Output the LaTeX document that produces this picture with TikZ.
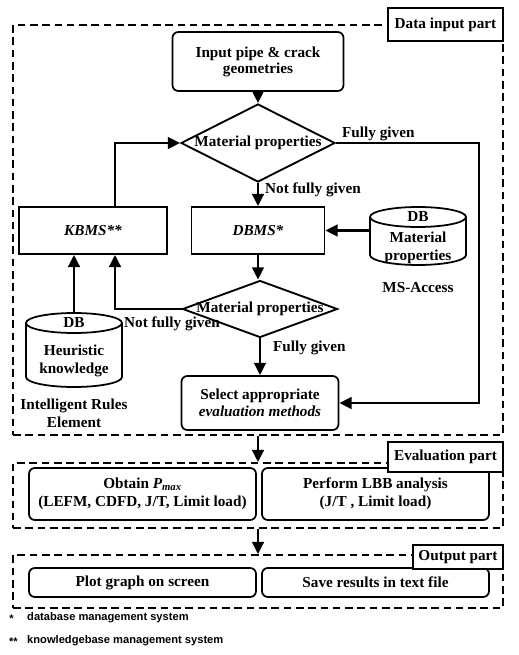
\documentclass[tikz,border=0pt]{standalone}
\usepackage{fontspec}
\setmainfont{Liberation Serif}
\newfontfamily\notefont{Liberation Sans}
\usetikzlibrary{shapes.geometric,arrows.meta}

\tikzset{
  txt/.style={font=\bfseries\fontsize{13}{15}\selectfont, align=center},
  stepbox/.style={txt, draw, line width=1.5pt, rounded corners=5pt, inner sep=0pt},
  sqbox/.style={txt, draw, line width=1.5pt, inner sep=0pt},
  decision/.style={diamond, draw, line width=1.6pt, inner sep=0pt},
  partbox/.style={draw, dash pattern=on 6.5pt off 4pt, line width=1.5pt, inner sep=0pt},
  tag/.style={txt, draw, fill=white, line width=1.5pt, inner sep=0pt},
  arr/.style={line width=2.2pt, -{Triangle[length=10.5pt,width=10pt]}},
  note/.style={font=\notefont\bfseries\fontsize{9.5}{11}\selectfont, inner sep=0pt}
}

% database drum: name, centre, height
\newcommand{\dbdrum}[3]{%
  \node[minimum width=2.88cm, minimum height=#3, inner sep=0pt, outer sep=0pt] (#1) at #2 {};
  \draw[line width=1.5pt] ([yshift=-0.3cm]#1.north west) -- ([yshift=0.3cm]#1.south west)
    arc[start angle=180, end angle=360, x radius=1.44cm, y radius=0.3cm]
    -- ([yshift=-0.3cm]#1.north east);
  \draw[line width=1.5pt] ([yshift=-0.3cm]#1.north) ellipse [x radius=1.44cm, y radius=0.3cm];
}

\begin{document}
\begin{tikzpicture}[x=0.03cm, y=-0.03cm]
            \useasboundingbox (0,0) rectangle (518,655);

            % parts
            \node[partbox, minimum width=14.7cm, minimum height=12.3cm] (datapart) at (258,230) {};
            \node[partbox, minimum width=14.7cm, minimum height=1.95cm] (evalpart) at (258,495.5) {};
            \node[partbox, minimum width=14.7cm, minimum height=1.59cm] (outpart) at (258,581.5) {};
            \node[tag, minimum width=3.45cm, minimum height=0.99cm] (datatag) at (445.5,24.5) {Data input part};

            % data input part
            \node[stepbox, minimum width=5.13cm, minimum height=1.77cm, font=\bfseries\fontsize{13}{13.5}\selectfont] (input) at (258,61.5) {Input pipe \& crack\\geometries};
            \node[decision, minimum width=4.62cm, minimum height=2.34cm] (d1) at (258,143) {};
            \node[txt] (d1txt) at (d1) {Material properties};
            \node[sqbox, minimum width=4.44cm, minimum height=1.41cm] (kbms) at (93,230.5) {\textit{KBMS**}};
            \node[sqbox, minimum width=3.99cm, minimum height=1.41cm] (dbms) at (258,230.5) {\textit{DBMS*}};
            \node[decision, minimum width=4.65cm, minimum height=1.71cm] (d2) at (260,309) {};
            \node[txt] (d2txt) at (d2) {Material properties};
            \node[stepbox, minimum width=4.71cm, minimum height=1.62cm] (select) at (260,403) {Select appropriate\\\textit{evaluation methods}};

            \dbdrum{matdb}{(418,236)}{1.74cm}
            \node[txt] (matdbtop) at ([yshift=-0.3cm]matdb.north) {DB};
            \node[txt] (matdbtxt) at ([yshift=-0.35cm]matdb.center) {Material\\properties};
            \node[txt] (access) at (418,288) {MS-Access};

            \dbdrum{heur}{(74,350)}{2.22cm}
            \node[txt] (heurtop) at ([yshift=-0.3cm]heur.north) {DB};
            \node[txt] (heurtxt) at ([yshift=-0.33cm]heur.center) {Heuristic\\knowledge};
            \node[txt] (rules) at (74,413) {Intelligent Rules\\Element};

            \coordinate (fgturn) at (479,143);

            \draw[arr] (input) -- (d1);
            \draw[arr] (d1) -- (dbms);
            \draw[arr] (dbms) -- (dbms |- d2.north);
            \draw[arr] (d2) -- (d2 |- select.north);
            \draw[arr] (matdb.west |- dbms.east) -- (dbms.east);
            \draw[arr] ([xshift=0.66cm]kbms.north) |- (d1.west);
            \draw[arr] (d2.west) -| ([xshift=0.66cm]kbms.south);
            \draw[arr] (heur.north) -- (heur.north |- kbms.south);
            \draw[arr] (d1.east) -- (fgturn) |- (select.east);

            \node[txt, anchor=west] (fg1) at (338,134) {Fully given};
            \node[txt, anchor=west] (nfg1) at (261,190) {Not fully given};
            \node[txt, anchor=west] (nfg2) at (120,324) {Not fully given};
            \node[txt, anchor=west] (fg2) at (269,348) {Fully given};

            % evaluation part
            \node[stepbox, minimum width=6.81cm, minimum height=1.56cm] (obtain) at (142.5,494) {Obtain \textit{P}\textsubscript{\textit{max}}\\(LEFM, CDFD, J/T, Limit load)};
            \node[stepbox, minimum width=6.81cm, minimum height=1.56cm] (lbb) at (375.5,494) {Perform LBB analysis\\(J/T , Limit load)};
            \node[tag, minimum width=3.45cm, minimum height=0.9cm] (evaltag) at (445.5,457) {Evaluation part};

            % output part
            \node[stepbox, minimum width=6.81cm, minimum height=0.87cm] (plot) at (142.5,582.5) {Plot graph on screen};
            \node[stepbox, minimum width=6.81cm, minimum height=0.87cm] (save) at (375.5,582.5) {Save results in text file};
            \node[tag, minimum width=2.7cm, minimum height=0.72cm] (outtag) at (458,557) {Output part};

            \draw[arr] (datapart.south) -- (evalpart.north);
            \draw[arr] (evalpart.south) -- (outpart.north);

            % footnotes
            \node[note, anchor=west] (fn1) at (27,618) {database management system};
            \node[note, anchor=east] (fn1star) at (14,619) {*};
            \node[note, anchor=west] (fn2) at (27,641) {knowledgebase management system};
            \node[note, anchor=east] (fn2star) at (18,642) {**};
\end{tikzpicture}
\end{document}
